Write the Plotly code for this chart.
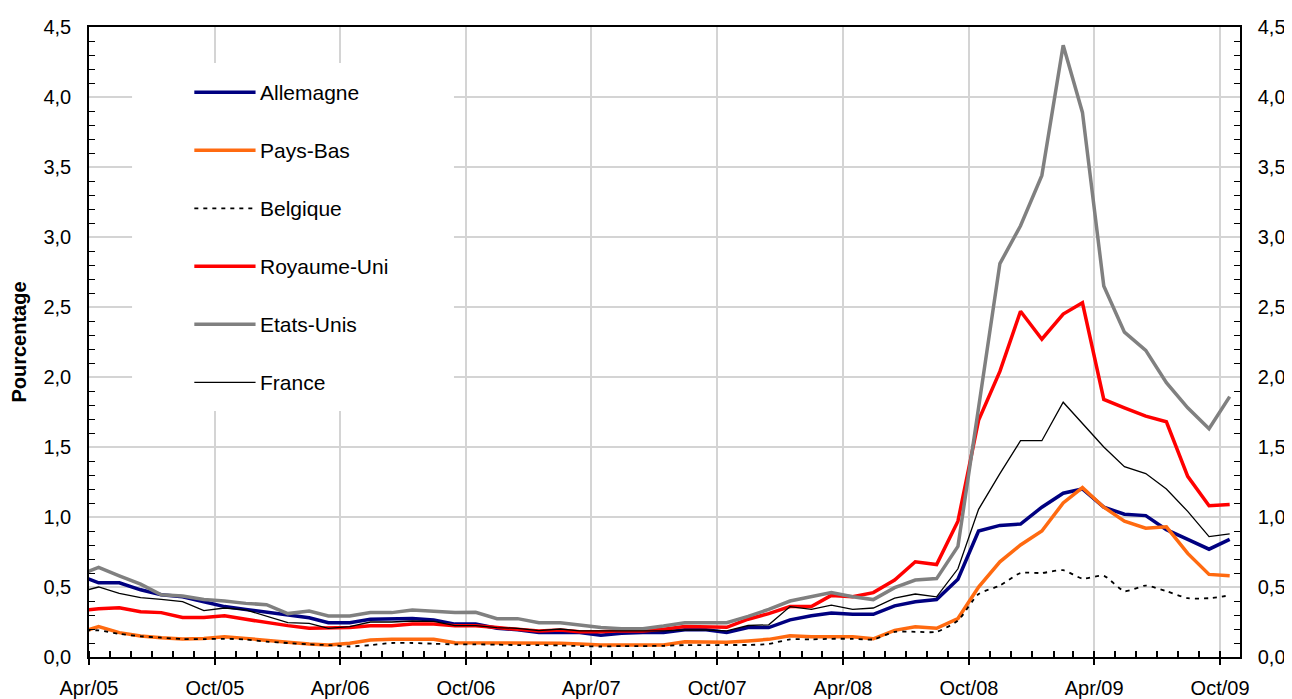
import pandas as pd
import plotly.graph_objects as go

# monthly observations, mid-month, Mar/05 .. Oct/09 (Mar/05 sits just left of the axis)
months = pd.date_range("2005-03-01", "2009-10-01", freq="MS") + pd.Timedelta(days=14)

allemagne = [0.59, 0.53, 0.53, 0.48, 0.445, 0.43, 0.395, 0.36, 0.34, 0.32,
             0.30, 0.28, 0.245, 0.245, 0.27, 0.27, 0.275, 0.265, 0.235, 0.235, 0.205, 0.195,
             0.175, 0.175, 0.175, 0.155, 0.17, 0.175, 0.175, 0.195, 0.195, 0.175, 0.21, 0.21,
             0.265, 0.295, 0.315, 0.305, 0.305, 0.365, 0.395, 0.41, 0.555, 0.90, 0.94, 0.95,
             1.07, 1.17, 1.20, 1.07, 1.02, 1.01, 0.91, 0.84, 0.77, 0.84]
pays_bas = [0.17, 0.217, 0.174, 0.15, 0.138, 0.129, 0.133, 0.145, 0.133, 0.117,
            0.105, 0.093, 0.086, 0.098, 0.121, 0.126, 0.126, 0.126, 0.102, 0.102, 0.102, 0.098,
            0.098, 0.098, 0.093, 0.086, 0.086, 0.086, 0.086, 0.109, 0.109, 0.105, 0.115, 0.126,
            0.152, 0.145, 0.145, 0.145, 0.13, 0.19, 0.216, 0.205, 0.275, 0.50, 0.68, 0.80,
            0.90, 1.10, 1.21, 1.07, 0.97, 0.92, 0.93, 0.74, 0.59, 0.58]
belgique = [0.19, 0.19, 0.165, 0.148, 0.138, 0.128, 0.128, 0.13, 0.125, 0.11,
            0.10, 0.09, 0.085, 0.075, 0.085, 0.10, 0.10, 0.095, 0.09, 0.09, 0.088, 0.085,
            0.085, 0.082, 0.078, 0.075, 0.078, 0.078, 0.08, 0.085, 0.085, 0.086, 0.086, 0.093,
            0.126, 0.126, 0.13, 0.13, 0.126, 0.18, 0.18, 0.18, 0.26, 0.45, 0.51, 0.60,
            0.60, 0.62, 0.56, 0.58, 0.47, 0.51, 0.47, 0.42, 0.42, 0.44]
royaume_uni = [0.33, 0.345, 0.352, 0.324, 0.317, 0.283, 0.283, 0.295, 0.269, 0.245,
               0.224, 0.205, 0.205, 0.21, 0.224, 0.224, 0.236, 0.236, 0.224, 0.224, 0.21, 0.198,
               0.186, 0.193, 0.181, 0.181, 0.188, 0.186, 0.198, 0.217, 0.217, 0.212, 0.27, 0.31,
               0.36, 0.36, 0.44, 0.43, 0.46, 0.55, 0.68, 0.66, 0.97, 1.69, 2.04, 2.47,
               2.27, 2.45, 2.53, 1.84, 1.78, 1.72, 1.68, 1.29, 1.08, 1.09]
etats_unis = [0.58, 0.64, 0.58, 0.52, 0.445, 0.436, 0.41, 0.40, 0.383, 0.374,
              0.31, 0.328, 0.293, 0.293, 0.317, 0.317, 0.336, 0.324, 0.317, 0.319, 0.274, 0.274,
              0.245, 0.245, 0.229, 0.21, 0.202, 0.202, 0.221, 0.245, 0.245, 0.245, 0.29, 0.34,
              0.40, 0.43, 0.46, 0.43, 0.41, 0.495, 0.55, 0.56, 0.79, 1.78, 2.81, 3.08,
              3.44, 4.37, 3.89, 2.65, 2.32, 2.19, 1.96, 1.78, 1.63, 1.86]
france = [0.46, 0.50, 0.455, 0.424, 0.412, 0.395, 0.331, 0.35, 0.336, 0.293,
          0.245, 0.24, 0.205, 0.217, 0.25, 0.25, 0.257, 0.255, 0.224, 0.224, 0.21, 0.205,
          0.188, 0.20, 0.186, 0.186, 0.186, 0.186, 0.186, 0.193, 0.193, 0.186, 0.225, 0.23,
          0.36, 0.34, 0.37, 0.34, 0.35, 0.42, 0.45, 0.43, 0.63, 1.055, 1.31, 1.545,
          1.545, 1.82, 1.67, 1.50, 1.36, 1.31, 1.20, 1.04, 0.86, 0.88]

series = [
    ("Allemagne", allemagne, dict(color="#000080", width=3.5), "linear"),
    ("Pays-Bas", pays_bas, dict(color="#FF6A10", width=3.5), "linear"),
    ("Belgique", belgique, dict(color="#000000", width=1.8, dash="4px,5px"), "spline"),
    ("Royaume-Uni", royaume_uni, dict(color="#FF0000", width=3.5), "linear"),
    ("Etats-Unis", etats_unis, dict(color="#808080", width=3.5), "linear"),
    ("France", france, dict(color="#000000", width=1.3), "linear"),
]

FONT = "Liberation Sans, Arial, sans-serif"

fig = go.Figure()
for name, vals, line, shape in series:
    fig.add_trace(go.Scatter(x=months, y=vals, name=name, mode="lines",
                             line=dict(shape=shape, smoothing=0.6, **line) if shape == "spline" else line,
                             yaxis="y2" if name == "France" else "y",
                             showlegend=False))

# hand-made legend box (the original has a tall spaced-out legend over the plot)
fig.add_shape(type="rect", xref="paper", yref="paper", x0=0.0374, x1=0.3171, y0=0.3905, y1=0.9429,
              fillcolor="white", line_width=0, layer="above")
for k, (name, vals, line, shape) in enumerate(series):
    yk = 0.8964 - k * 0.0921
    fig.add_shape(type="line", xref="paper", yref="paper", x0=0.0915, x1=0.1447, y0=yk, y1=yk,
                  line=dict(color=line["color"], width=line["width"], dash=line.get("dash", "solid")),
                  layer="above")
    fig.add_annotation(xref="paper", yref="paper", x=0.1470, y=yk, text=name, showarrow=False,
                       xanchor="left", yanchor="middle", font=dict(family=FONT, size=21, color="black"))

yax = dict(range=[0, 4.5], dtick=0.5, tick0=0, tickformat=".1f", ticks="",
           showline=True, linecolor="black", linewidth=1.5, automargin=False,
           minor=dict(dtick=0.1, tick0=0, ticks="inside", ticklen=6, tickcolor="black", showgrid=False),
           tickfont=dict(family=FONT, size=20, color="black"), fixedrange=True, zeroline=False)

# the page body adds an 8px offset, so the margins are shifted to keep the plot area in place
fig.update_layout(
    width=1292, height=699,
    margin=dict(l=81, r=60, t=19, b=50),
    plot_bgcolor="white", paper_bgcolor="white",
    separators=", ",
    font=dict(family=FONT, color="black"),
    xaxis=dict(type="date", range=["2005-04-01", "2009-10-30"],
               tick0="2005-04-01", dtick="M6", tickformat="%b/%y",
               ticks="outside", ticklen=6, tickcolor="black", tickwidth=1.5,
               showgrid=True, gridcolor="#d4d4d4", gridwidth=1.5,
               showline=True, linecolor="black", linewidth=1.5, mirror=True,
               minor=dict(dtick="M1", tick0="2005-04-01", ticks="inside", ticklen=6,
                          tickcolor="black", showgrid=False),
               tickfont=dict(family=FONT, size=20, color="black"),
               ticklabelstandoff=6, zeroline=False, automargin=False),
    yaxis=dict(**yax, showgrid=True, gridcolor="#d4d4d4", gridwidth=1.5,
               ticklabelstandoff=12,
               title=dict(text="<b>Pourcentage</b>", font=dict(family=FONT, size=20, color="black"),
                          standoff=14)),
    yaxis2=dict(**yax, overlaying="y", side="right", showgrid=False, ticklabelstandoff=12),
)

fig.write_html("out.html")
